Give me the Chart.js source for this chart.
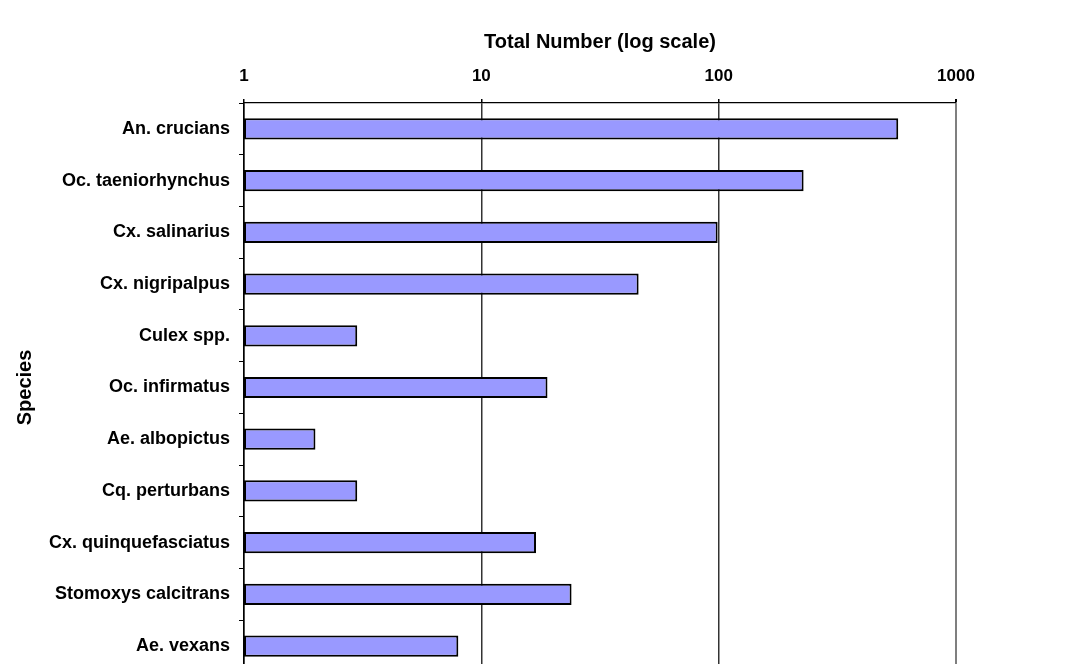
<!DOCTYPE html>
<html>
<head>
<meta charset="utf-8">
<script src="https://cdn.jsdelivr.net/npm/chart.js@4"></script>
<style>
  html, body { margin: 0; padding: 0; background: #fff; overflow: hidden; }
  canvas { display: block; }
</style>
</head>
<body>
<canvas id="chart" width="1078" height="700"></canvas>
<script>
// Species collected and their total counts
const species = [
  'An. crucians',
  'Oc. taeniorhynchus',
  'Cx. salinarius',
  'Cx. nigripalpus',
  'Culex spp.',
  'Oc. infirmatus',
  'Ae. albopictus',
  'Cq. perturbans',
  'Cx. quinquefasciatus',
  'Stomoxys calcitrans',
  'Ae. vexans'
];
const totals = [571, 228, 99, 46, 3, 19, 2, 3, 17, 24, 8];

// Decade ticks on the logarithmic axis
const xTickValues = [1, 10, 100, 1000];

const xAxisTitle = 'Total Number (log scale)';
const yAxisTitle = 'Species';

const FONT = "'Liberation Sans', Arial, Helvetica, sans-serif";

new Chart(document.getElementById('chart'), {
  type: 'bar',
  data: {
    labels: species,
    datasets: [{
      data: totals,
      backgroundColor: '#9999FF',
      borderColor: '#000000',
      borderWidth: 2,
      borderSkipped: false,
      barPercentage: 0.41,
      categoryPercentage: 1
    }]
  },
  options: {
    indexAxis: 'y',
    responsive: false,
    animation: false,
    layout: { padding: { left: 0, right: 122, top: 0, bottom: 28 } },
    plugins: {
      legend: { display: false },
      tooltip: { enabled: false }
    },
    scales: {
      x: {
        type: 'logarithmic',
        position: 'top',
        min: 1,
        max: 1000,
        afterBuildTicks: (scale) => {
          scale.ticks = xTickValues.map(v => ({ value: v }));
        },
        afterFit: (scale) => { scale.height = 103; },
        ticks: {
          callback: (v) => String(v),
          color: '#000',
          font: { family: FONT, size: 17, weight: 'bold' },
          padding: 12,
          maxRotation: 0,
          autoSkip: false
        },
        grid: {
          color: (ctx) => (ctx.tick && ctx.tick.value === 1000) ? '#7f7f7f' : '#333333',
          lineWidth: (ctx) => (ctx.tick && ctx.tick.value === 1000) ? 2 : 1.5,
          tickColor: '#000',
          tickLength: 4
        },
        border: { display: true, color: '#000', width: 1.2 },
        title: {
          display: true,
          text: xAxisTitle,
          color: '#000',
          font: { family: FONT, size: 20, weight: 'bold' },
          padding: { top: 30, bottom: 0 }
        }
      },
      y: {
        position: 'left',
        afterFit: (scale) => { scale.width = 244; },
        ticks: {
          color: '#000',
          font: { family: FONT, size: 18, weight: 'bold' },
          padding: 9,
          autoSkip: false
        },
        grid: {
          offset: true,
          drawOnChartArea: false,
          color: '#000',
          tickLength: 5
        },
        border: { display: true, color: '#000', width: 1.5 },
        title: {
          display: true,
          text: yAxisTitle,
          color: '#000',
          font: { family: FONT, size: 20, weight: 'bold' },
          padding: { top: 13, bottom: 0 }
        }
      }
    }
  }
});
</script>
</body>
</html>
